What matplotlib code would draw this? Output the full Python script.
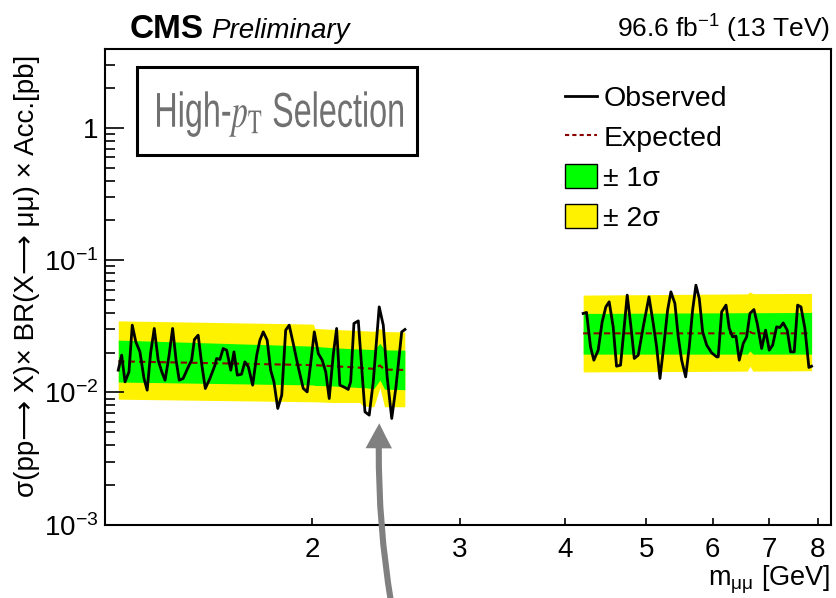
import matplotlib
matplotlib.use('Agg')
import math
import matplotlib.pyplot as plt
from matplotlib.lines import Line2D
from matplotlib.patches import Patch, Rectangle, PathPatch, FancyArrowPatch
from matplotlib.textpath import TextPath
from matplotlib.font_manager import FontProperties
from matplotlib.transforms import Affine2D, IdentityTransform
from matplotlib.ticker import FixedLocator, NullLocator, FuncFormatter

plt.rcParams['font.family'] = ['Liberation Sans', 'DejaVu Sans']
plt.rcParams['mathtext.fontset'] = 'custom'
plt.rcParams['mathtext.rm'] = 'Liberation Sans'
plt.rcParams['mathtext.it'] = 'Liberation Sans:italic'
plt.rcParams['mathtext.bf'] = 'Liberation Sans:bold'

# ---- observed limits, low-mass window ----
mass_low = [1.176, 1.187, 1.198, 1.211, 1.222, 1.234, 1.248, 1.262, 1.273, 1.285,
            1.298, 1.312, 1.325, 1.337, 1.351, 1.365, 1.378, 1.390, 1.405, 1.425,
            1.438, 1.449, 1.464, 1.478, 1.493, 1.512, 1.533, 1.540, 1.554, 1.568,
            1.583, 1.601, 1.615, 1.630, 1.649, 1.664, 1.680, 1.700, 1.719, 1.734,
            1.750, 1.769, 1.786, 1.802, 1.821, 1.841, 1.861, 1.879, 1.900, 1.926,
            1.953, 1.974, 1.993, 2.013, 2.035, 2.057, 2.077, 2.097, 2.120, 2.140,
            2.159, 2.189, 2.209, 2.224, 2.244, 2.271, 2.292, 2.313, 2.340, 2.366,
            2.405, 2.432, 2.458, 2.489, 2.518, 2.558, 2.581]
obs_low = [0.01475, 0.01915, 0.01203, 0.01432, 0.0323, 0.02414, 0.02028, 0.01276, 0.01041, 0.01983,
           0.03049, 0.01755, 0.01432, 0.01239, 0.01859, 0.0305, 0.01755, 0.01239, 0.01276, 0.01562,
           0.01755, 0.02517, 0.02713, 0.01657, 0.01072, 0.01276, 0.01609, 0.01808, 0.01777, 0.02151,
           0.02089, 0.01475, 0.02028, 0.01352, 0.01375, 0.01704, 0.01562, 0.01136, 0.01915, 0.02487,
           0.02873, 0.02487, 0.01475, 0.01203, 0.00757, 0.00954, 0.0296, 0.0323, 0.02348, 0.01562,
           0.01072, 0.0101, 0.01657, 0.02873, 0.01972, 0.01755, 0.01432, 0.009, 0.01915, 0.0305,
           0.01136, 0.01091, 0.01054, 0.01203, 0.03326, 0.0348, 0.01562, 0.00713, 0.00674, 0.01203,
           0.04441, 0.0323, 0.01312, 0.00636, 0.01102, 0.02873, 0.02996]

# ---- observed limits, high-mass window ----
mass_high = [4.207, 4.246, 4.293, 4.332, 4.384, 4.432, 4.477, 4.518, 4.568, 4.610,
             4.661, 4.704, 4.747, 4.796, 4.840, 4.893, 4.960, 5.039, 5.098, 5.146,
             5.193, 5.254, 5.303, 5.351, 5.410, 5.460, 5.511, 5.572, 5.627, 5.679,
             5.731, 5.784, 5.838, 5.903, 5.984, 6.067, 6.093, 6.150, 6.224, 6.280,
             6.338, 6.396, 6.454, 6.525, 6.586, 6.646, 6.719, 6.780, 6.863, 6.937,
             7.007, 7.073, 7.150, 7.215, 7.281, 7.361, 7.430, 7.504, 7.574, 7.643,
             7.727, 7.812, 7.870]
obs_high = [0.0396, 0.0403, 0.0221, 0.01755, 0.02089, 0.0342, 0.0444, 0.0485, 0.03135, 0.0158,
            0.01609, 0.0296, 0.0545, 0.03135, 0.01808, 0.01915, 0.03135, 0.0529, 0.03326, 0.0221,
            0.01276, 0.02414, 0.0419, 0.0577, 0.0471, 0.02634, 0.01755, 0.01312, 0.0221, 0.0419,
            0.0648, 0.0514, 0.02873, 0.0228, 0.01993, 0.01859, 0.01859, 0.0407, 0.0458, 0.0305,
            0.02634, 0.02667, 0.01755, 0.02348, 0.02634, 0.0396, 0.0424, 0.03326, 0.02151, 0.0296,
            0.02089, 0.0228, 0.03135, 0.0310, 0.0336, 0.0296, 0.02028, 0.02028, 0.0458, 0.0444,
            0.0305, 0.01546, 0.0158]

# ---- expected limits and bands ----
band_mass_low = [1.176, 2.007, 2.016, 2.12, 2.28, 2.30, 2.37, 2.41, 2.44, 2.58]
exp_low = [0.0172, 0.0161, 0.0161, 0.0158, 0.0154, 0.0153, 0.0151, 0.0160, 0.0149, 0.0148]
p1_low = [0.0249, 0.0224, 0.0223, 0.0218, 0.0213, 0.0213, 0.0211, 0.0235, 0.0210, 0.0209]
m1_low = [0.0120, 0.0114, 0.0113, 0.0112, 0.0109, 0.0109, 0.0107, 0.0124, 0.0106, 0.0105]
p2_low = [0.0348, 0.0329, 0.0305, 0.0300, 0.0294, 0.0293, 0.0290, 0.0305, 0.0289, 0.0287]
m2_low = [0.0089, 0.0085, 0.0085, 0.0084, 0.0084, 0.0079, 0.0078, 0.0109, 0.0078, 0.0078]

band_mass_high = [4.207, 5.5, 6.60, 6.646, 6.70, 7.870]
exp_high = [0.0280, 0.0280, 0.0280, 0.0287, 0.0280, 0.0280]
p1_high = [0.0396, 0.0399, 0.0401, 0.0410, 0.0401, 0.0403]
m1_high = [0.0195, 0.0195, 0.0195, 0.0206, 0.0195, 0.0195]
p2_high = [0.0545, 0.0552, 0.0557, 0.0577, 0.0559, 0.0561]
m2_high = [0.0143, 0.0144, 0.0145, 0.0158, 0.0145, 0.0146]

x_ticks = [2, 3, 4, 5, 6, 7, 8]

GREEN = '#00ff00'
YELLOW = '#fff200'
DARKRED = '#8b0000'

W, H = 836, 598
fig = plt.figure(figsize=(W / 100, H / 100), dpi=100)
ax = fig.add_axes([105 / W, (H - 524.7) / H, 726 / W, 475.7 / H])
ax.set_xscale('log')
ax.set_yscale('log')

windows = [
    (band_mass_low, exp_low, p1_low, m1_low, p2_low, m2_low, mass_low, obs_low),
    (band_mass_high, exp_high, p1_high, m1_high, p2_high, m2_high, mass_high, obs_high),
]
for bm, ex, p1, m1, p2, m2, om, ob in windows:
    ax.fill_between(bm, m2, p2, color=YELLOW, lw=0)
    ax.fill_between(bm, m1, p1, color=GREEN, lw=0)
    ax.plot(bm, ex, color=DARKRED, lw=1.5, ls=(0, (3, 2)))
    ax.plot(om, ob, color='black', lw=2)

ax.set_xlim(1.134, 8.30)
ax.set_ylim(1e-3, 3.96)

ax.xaxis.set_major_locator(FixedLocator(x_ticks))
ax.xaxis.set_major_formatter(FuncFormatter(lambda v, p: '%d' % v))
ax.xaxis.set_minor_locator(NullLocator())


def ylab(v, p):
    if abs(v - 1) < 1e-9:
        return '1'
    return r'$10^{%d}$' % round(math.log10(v))


ax.yaxis.set_major_formatter(FuncFormatter(ylab))
ax.tick_params(which='both', direction='in', top=False, right=False, labelsize=20)
ax.tick_params(axis='y', which='major', length=14, width=1.2, pad=5)
ax.tick_params(axis='y', which='minor', length=7, width=1.2)
ax.tick_params(axis='x', which='major', length=5, width=1.2, pad=9)
for s in ax.spines.values():
    s.set_linewidth(1.5)

# legend
handles = [Line2D([], [], color='black', lw=2),
           Line2D([], [], color=DARKRED, lw=1.5, ls=(0, (2, 1.5))),
           Patch(facecolor=GREEN, edgecolor='black', lw=1),
           Patch(facecolor=YELLOW, edgecolor='black', lw=1)]
labels = ['Observed', 'Expected', '± 1σ', '± 2σ']
ax.legend(handles, labels, loc='upper left', bbox_to_anchor=(0.6336, 0.925),
          frameon=False, fontsize=20.5, handlelength=1.12, handleheight=0.92,
          handletextpad=0.22, labelspacing=0.42, borderpad=0, borderaxespad=0)

# header texts
fig.text(130 / W, (H - 38) / H, 'CMS', fontsize=24, fontweight='bold', va='baseline')
fig.text(211 / W, (H - 38) / H, 'Preliminary', fontsize=20, style='italic', va='baseline')
fig.text(830 / W, (H - 38) / H, r'96.6 fb$^{-1}$ (13 TeV)', fontsize=19, ha='right', va='baseline')

# axis titles
fig.text(27 / W, (H - 55) / H, 'σ(pp⟶ X)× BR(X⟶ μμ) × Acc.[pb]', fontsize=20,
         rotation=90, ha='center', va='top')
fig.text(830 / W, (H - 585) / H, r'm$_{\mathregular{μμ}}$ [GeV]', fontsize=19.5,
         ha='right', va='baseline')

# selection label box
fig.add_artist(Rectangle((137 / W, (H - 155) / H), 280 / W, 88 / H, transform=fig.transFigure,
                         fill=False, ec='black', lw=2.2))
fp = FontProperties(family='Liberation Sans')
fp.set_math_fontfamily('stix')
tp = TextPath((0, 0), r'High-$p_{\mathrm{T}}$ Selection', size=100, prop=fp)
ext = tp.get_extents()
sy = 48.9 / 100
sx = 246 / ext.width
tr = Affine2D().translate(-ext.x0, 0).scale(sx, sy).translate(157, H - 127)
fig.add_artist(PathPatch(tp, transform=tr, fc='#707070', lw=0))

# arrow pointing at the dip
fig.add_artist(FancyArrowPatch((391, -4), (379.3, H - 423.3), transform=IdentityTransform(),
                               arrowstyle='simple,head_length=0.9,head_width=0.95,tail_width=0.22',
                               mutation_scale=20, connectionstyle='arc3,rad=-0.05',
                               fc='#808080', ec='none', shrinkA=0, shrinkB=0))

fig.savefig('out.png', dpi=100)
